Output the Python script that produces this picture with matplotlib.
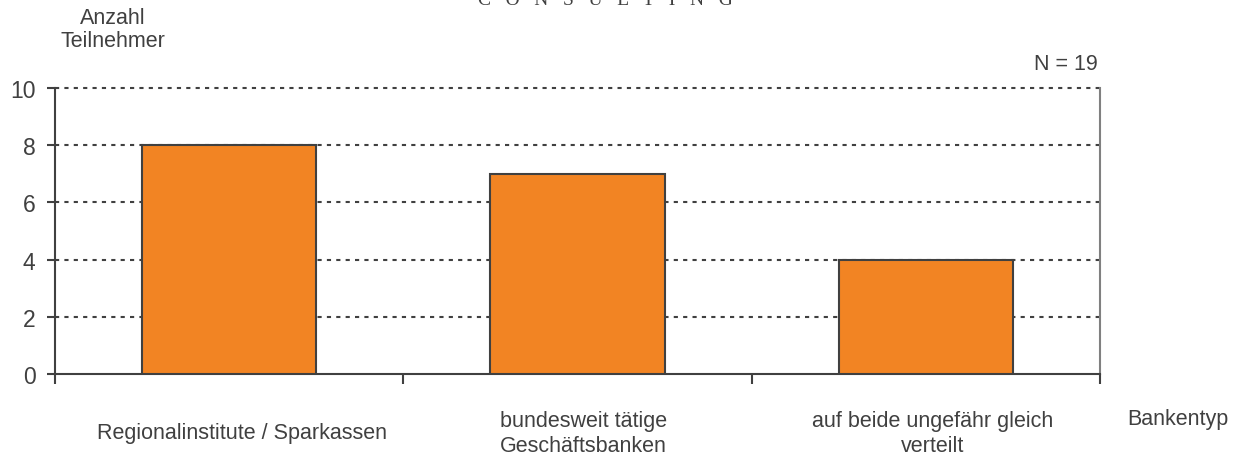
import numpy as np
import matplotlib.pyplot as plt
import matplotlib.transforms as mtransforms

# data
kategorien = ['Regionalinstitute / Sparkassen',
              'bundesweit tätige\nGeschäftsbanken',
              'auf beide ungefähr gleich\nverteilt']
anzahl = [8, 7, 4]
y_ticks = [0, 2, 4, 6, 8, 10]

textfarbe = '#404040'
balkenfarbe = '#F28423'
plt.rcParams['font.family'] = ['Liberation Sans', 'DejaVu Sans']

fig = plt.figure(figsize=(12.39, 4.6), dpi=100)
ax = fig.add_axes([55 / 1239, 85 / 460, 1045 / 1239, 286 / 460])

x = np.arange(len(anzahl))
ax.bar(x, anzahl, width=0.5, color=balkenfarbe, edgecolor=textfarbe,
       linewidth=1.5, zorder=3)

ax.set_xlim(-0.5, len(anzahl) - 0.5)
ax.set_ylim(0, 10)
ax.set_yticks(y_ticks)
ax.set_yticklabels([str(t) for t in y_ticks], fontsize=16.5, color=textfarbe)
ax.set_xticks(np.arange(len(anzahl) + 1) - 0.5)
ax.set_xticklabels([])

# dashed grid
for t in y_ticks[1:]:
    ax.axhline(t, color=textfarbe, lw=1.5, ls=(0, (2, 2.5)), zorder=1,
               clip_on=False)

ax.tick_params(axis='y', direction='out', length=6, width=1.5,
               color=textfarbe, pad=8)
ax.tick_params(axis='x', direction='out', length=7, width=1.5,
               color=textfarbe)

for s in ['left', 'bottom']:
    ax.spines[s].set_color(textfarbe)
    ax.spines[s].set_linewidth(1.5)
ax.spines['right'].set_color('#808080')
ax.spines['right'].set_linewidth(1.5)
ax.spines['top'].set_visible(False)

# category labels below axis (slightly right of the bar centres, as in original)
verschiebung_px = [13, 6, 7]
for i, lab in enumerate(kategorien):
    tr = ax.get_xaxis_transform() + mtransforms.ScaledTranslation(
        verschiebung_px[i] / 100, 0, fig.dpi_scale_trans)
    ax.text(i, -(434 - 375) / 286, lab, transform=tr,
            ha='center', va='center', fontsize=15.5, color=textfarbe,
            linespacing=1.2)

fig.text(1127 / 1239, 1 - 420 / 460, 'Bankentyp', ha='left', va='center',
         fontsize=15.5, color=textfarbe)
fig.text(113 / 1239, 1 - 30 / 460, 'Anzahl\nTeilnehmer', ha='center',
         va='center', fontsize=15.5, color=textfarbe, linespacing=1.15)
fig.text(1098 / 1239, 1 - 65 / 460, 'N = 19', ha='right', va='center',
         fontsize=15.5, color=textfarbe)
# cut-off logo text at the top edge
fig.text(605 / 1239, 1 - 5 / 460, 'C   O   N   S   U   L   T   I   N   G',
         ha='center', va='baseline', fontsize=14, color=textfarbe,
         family='Liberation Serif')

fig.savefig('out.png', dpi=100)
